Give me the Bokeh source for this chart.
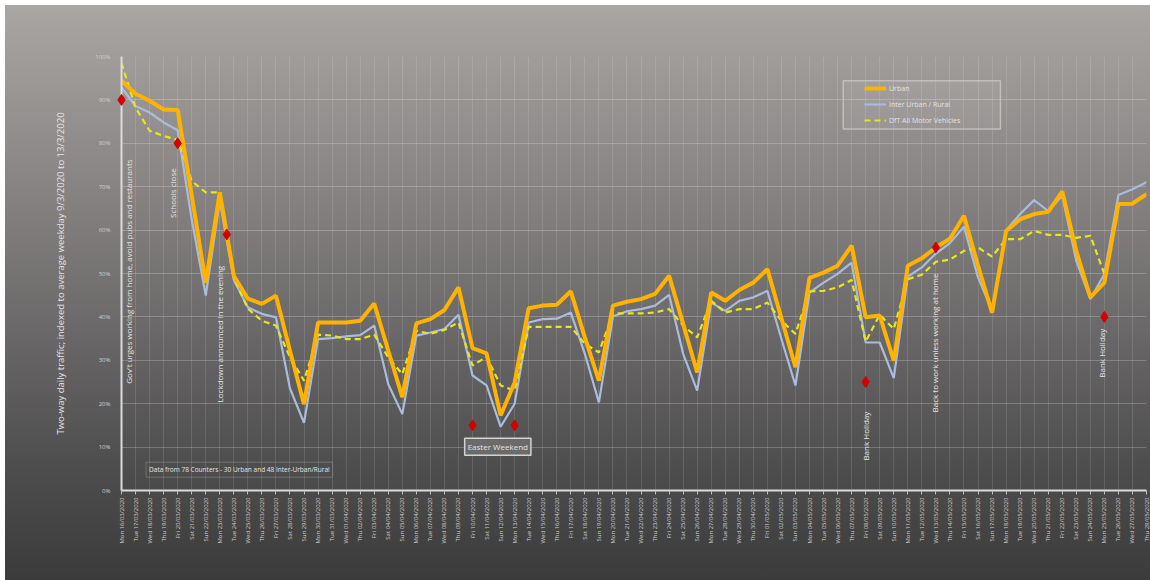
from math import pi
import datetime as dt

from bokeh.plotting import figure
from bokeh.models import (FixedTicker, Label, Legend, LegendItem, BoxAnnotation)
from bokeh.embed import file_html
from bokeh.resources import INLINE

# ---- data -------------------------------------------------------------
first_day = dt.date(2020, 3, 16)
n_days = 74
day_labels = [(first_day + dt.timedelta(days=k)).strftime("%a %d/%m/%Y") for k in range(n_days)]
day_index = list(range(n_days))

# two-way daily traffic, % of the average weekday 9/3/2020 - 13/3/2020
urban = [94.5, 91.4, 89.8, 87.8, 87.7, 68.0, 47.9, 68.7, 49.5, 44.2,
         43.0, 44.9, 32.2, 19.9, 38.7, 38.7, 38.7, 39.1, 43.1, 32.2,
         21.5, 38.5, 39.5, 41.6, 46.8, 32.8, 31.6, 17.3, 24.9, 42.0,
         42.6, 42.8, 45.9, 35.3, 25.3, 42.6, 43.5, 44.1, 45.3, 49.5,
         38.4, 27.2, 45.6, 43.7, 46.2, 47.9, 51.0, 39.7, 28.4, 49.0,
         50.2, 51.8, 56.4, 39.9, 40.3, 29.9, 51.8, 53.5, 56.0, 58.0,
         63.3, 51.8, 41.0, 59.8, 62.5, 63.7, 64.2, 68.9, 55.2, 44.5,
         47.9, 66.0, 66.1, 68.3]

inter_urban_rural = [92.8, 88.6, 87.1, 84.8, 83.0, 62.5, 44.9, 66.7, 48.5, 42.2,
                     40.7, 39.9, 23.5, 15.6, 34.9, 35.1, 35.5, 35.8, 38.0, 24.5,
                     17.6, 35.7, 36.4, 37.2, 40.5, 26.5, 24.2, 14.7, 20.0, 38.7,
                     39.5, 39.6, 41.0, 31.5, 20.3, 40.1, 41.3, 41.8, 42.6, 45.1,
                     31.5, 23.0, 43.3, 41.4, 43.7, 44.5, 46.0, 34.9, 24.2, 45.6,
                     47.9, 49.9, 52.5, 34.1, 34.1, 25.9, 49.3, 51.4, 54.6, 57.0,
                     60.8, 49.1, 41.4, 60.0, 63.7, 66.9, 64.4, 67.9, 52.9, 44.1,
                     49.9, 68.1, 69.4, 71.0]

dft_all_motor = [98.5, 88.2, 82.9, 81.7, 80.8, 71.3, 68.7, 68.7, 49.0, 41.9,
                 39.1, 38.0, 30.7, 25.3, 35.9, 35.7, 34.9, 34.9, 35.9, 30.7,
                 26.8, 36.8, 36.1, 37.0, 38.7, 28.8, 30.8, 24.2, 23.0, 37.7,
                 37.7, 37.7, 37.7, 33.8, 31.8, 40.8, 40.8, 40.8, 41.0, 41.8,
                 38.0, 35.3, 43.7, 41.0, 41.8, 41.8, 43.3, 39.1, 36.1, 45.9,
                 46.0, 46.8, 48.5, 34.3, 40.5, 37.2, 48.7, 49.7, 52.7, 53.2,
                 55.2, 56.0, 53.9, 57.9, 57.9, 59.8, 58.9, 58.9, 58.2, 58.7,
                 49.9]

# event markers (day index, level %)
event_day = [0, 4, 7.5, 25, 28, 53, 58, 70]
event_level = [90, 80, 59, 15, 15, 25, 56, 40]

y_ticks = list(range(0, 101, 10))
y_tick_labels = {v: f"{v}%" for v in y_ticks}

# ---- styling ------------------------------------------------------------
FONT = "Open Sans"
TEXT = "#e4e4e4"
AXIS = "#dcdcdc"

p = figure(width=1150, height=580, output_backend="svg", toolbar_location=None,
           x_range=(0, n_days - 1), y_range=(0, 100),
           min_border_left=121, min_border_right=4,
           min_border_top=56, min_border_bottom=90)

p.background_fill_color = None
p.border_fill_color = None
p.outline_line_color = None
p.styles = {
    "background": "linear-gradient(to right, #ffffff 0px, #ffffff 5px, transparent 5px), "
                  "linear-gradient(to bottom, #ffffff 0px, #ffffff 5px, #aaa6a4 5px, "
                  "#8c8887 28%, #6c6a6a 55%, #4f4e4e 80%, #3b3b3b 100%)"
}

# day axis
p.xaxis.ticker = FixedTicker(ticks=day_index)
p.xaxis.major_label_overrides = {i: s for i, s in zip(day_index, day_labels)}
p.xaxis.major_label_orientation = pi / 2
p.xaxis.major_label_text_font_size = "6px"
p.xaxis.major_label_text_color = "#cfcfcf"
p.xaxis.major_label_text_font = FONT
p.xaxis.major_label_standoff = 3
p.xaxis.axis_line_color = AXIS
p.xaxis.axis_line_width = 2
p.xaxis.major_tick_line_color = "#bdbdbd"
p.xaxis.major_tick_out = 4
p.xaxis.major_tick_in = 0
p.xaxis.minor_tick_line_color = None

# percentage axis
p.yaxis.ticker = FixedTicker(ticks=y_ticks)
p.yaxis.major_label_overrides = y_tick_labels
p.yaxis.major_label_text_font_size = "6px"
p.yaxis.major_label_text_color = "#cfcfcf"
p.yaxis.major_label_text_font = FONT
p.yaxis.major_label_standoff = 5
p.yaxis.axis_line_color = AXIS
p.yaxis.axis_line_width = 2
p.yaxis.major_tick_line_color = None
p.yaxis.minor_tick_line_color = None
p.yaxis.axis_label = "Two-way daily traffic; indexed to average weekday 9/3/2020 to 13/3/2020"
p.yaxis.axis_label_text_font = FONT
p.yaxis.axis_label_text_font_size = "9.5px"
p.yaxis.axis_label_text_font_style = "normal"
p.yaxis.axis_label_text_color = TEXT
p.yaxis.axis_label_standoff = 25

p.xgrid.ticker = FixedTicker(ticks=day_index)
p.xgrid.grid_line_color = "#ffffff"
p.xgrid.grid_line_alpha = 0.12
p.ygrid.ticker = FixedTicker(ticks=y_ticks)
p.ygrid.grid_line_color = "#ffffff"
p.ygrid.grid_line_alpha = 0.22

# legend frame
p.add_layout(BoxAnnotation(left=51.4, right=62.6, bottom=83.3, top=94.4,
                           fill_color="#ffffff", fill_alpha=0.07,
                           line_color="#c4c2c0", line_width=1.5, line_alpha=0.9))

# series
r_inter = p.line(day_index, inter_urban_rural, line_color="#a9bcdb", line_width=2.2)
r_dft = p.line(day_index[:len(dft_all_motor)], dft_all_motor, line_color="#e6e620",
               line_width=2.2, line_dash="6 4")
r_urban = p.line(day_index, urban, line_color="#ffb300", line_width=4)

# event diamonds, kept on the overlay level so the one on the axis is not cut
events = p.scatter(event_day, event_level, marker="diamond", size=11,
                   fill_color="#d40000", line_color="#d40000")
events.level = "overlay"

# annotations
def vtext(x, y, text):
    p.add_layout(Label(x=x, y=y, text=text, angle=pi / 2, text_align="left",
                       text_baseline="middle", text_font=FONT, text_font_size="8px",
                       text_color=TEXT))

vtext(0.52, 24.6, "Gov't urges working from home, avoid pubs and restaurants")
vtext(3.6, 62.8, "Schools close")
vtext(7.0, 20.3, "Lockdown announced in the evening")
vtext(53.0, 6.9, "Bank Holiday")
vtext(57.9, 18.0, "Back to work unless working at home")
vtext(69.8, 26.0, "Bank Holiday")

p.add_layout(Label(x=26.8, y=10.1, text="Easter Weekend", text_align="center",
                   text_baseline="middle", text_font=FONT, text_font_size="8px",
                   text_color=TEXT, border_line_color="#d4d4d4", border_line_width=1.5,
                   background_fill_color="#6c6a6a", padding=3))

p.add_layout(Label(x=1.75, y=4.8, text="Data from 78 Counters - 30 Urban and 48 Inter-Urban/Rural",
                   text_align="left", text_baseline="middle", text_font=FONT,
                   text_font_size="6.5px", text_color=TEXT,
                   border_line_color="#8c8a8a", border_line_width=1, border_line_alpha=0.6,
                   padding=3))

legend = Legend(items=[LegendItem(label="Urban", renderers=[r_urban]),
                       LegendItem(label="Inter Urban / Rural", renderers=[r_inter]),
                       LegendItem(label="DfT All Motor Vehicles", renderers=[r_dft])],
                location=(743, 364), orientation="vertical",
                background_fill_alpha=0, border_line_color=None,
                label_text_font=FONT, label_text_font_size="7px", label_text_color=TEXT,
                glyph_width=22, glyph_height=12, label_height=12, label_standoff=3,
                spacing=4, padding=3, margin=0)
p.add_layout(legend, "center")

open("out.html", "w").write(file_html(p, INLINE))
